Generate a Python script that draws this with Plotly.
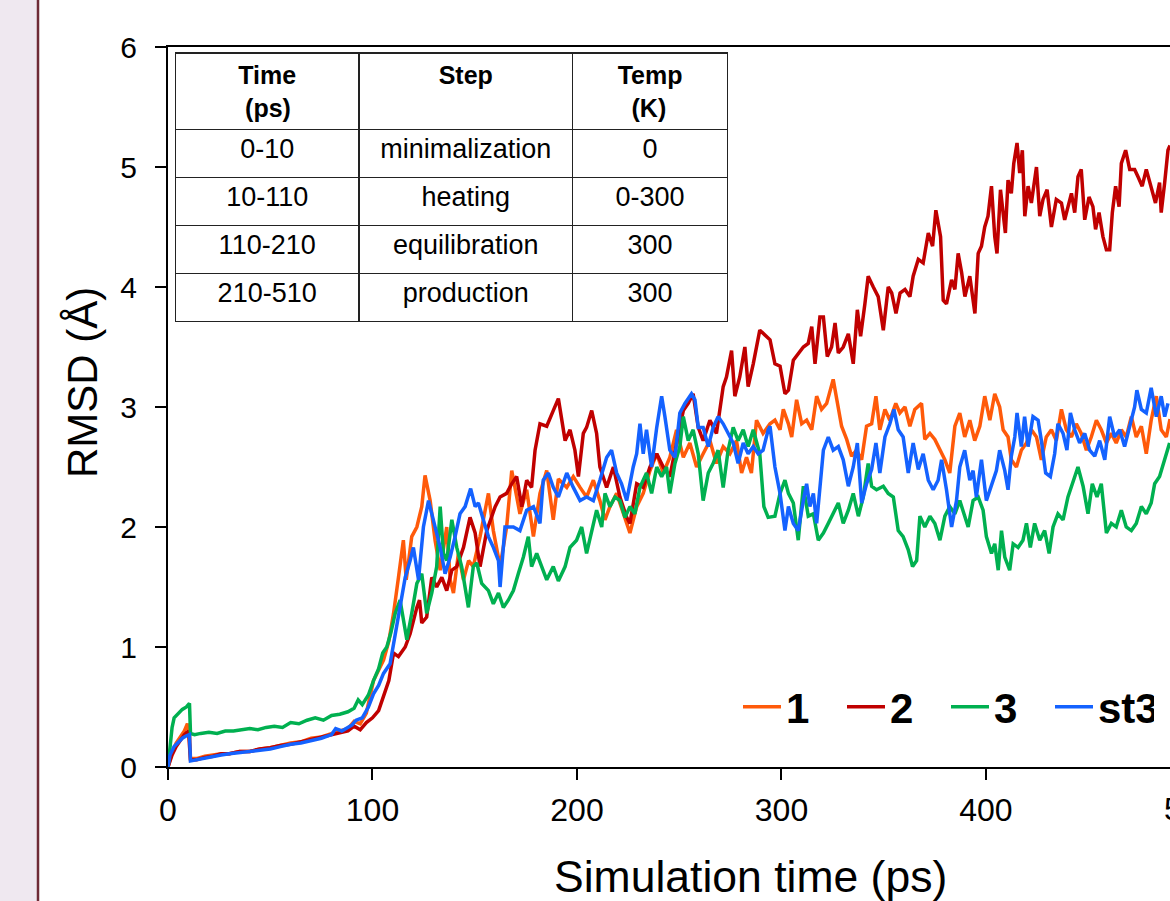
import plotly.graph_objects as go

# ---------------- data ----------------
t1 = [0, 2, 4, 6, 8, 9.5, 10.5, 11, 14, 18, 22, 26, 30, 35, 40, 45, 50, 55, 60, 65, 70, 75, 80, 84, 88, 91, 94, 97,
      100.5, 103, 105.4, 108, 110.3, 112.7, 115.1, 116.5, 119.2, 121.7, 124.1, 125.7, 128.2, 130.6, 133.1, 136.3, 138,
      139.6, 142, 144.5, 147, 149.3, 152.6, 156.7, 159.1, 162.4, 165.6, 168.1, 172.1, 175.4, 178.7, 181.9, 185.2, 188.4,
      190.9, 195, 198.2, 201.5, 204.7, 208, 211.2, 213.7, 216.1, 219.4, 222.6, 225.9, 229.2, 232.4, 235.7, 239, 242.2,
      245.4, 248.7, 252, 255.2, 258.5, 261.7, 265, 268.2, 271.5, 274.8, 278, 280.5, 282.9, 285.3, 287.8, 291,
      294.4, 296.8, 299.3, 300.9, 303.4, 305, 307.4, 309.9, 312.3, 314.8, 317.2, 319.6, 322.1, 325.3, 327.8, 329.4,
      331.9, 334.3, 336.7, 339.2, 341.6, 344.1, 346.2, 348.1, 350.6, 353, 355.9, 357.9, 360.4, 362.8, 365.2, 368.5,
      370.1, 372.6, 375, 377.5, 379.9, 382.3, 384.8, 387.2, 389.6, 392.1, 394.5, 397, 399.4, 401.9, 404.3, 406.7,
      408.4, 410.8, 412.4, 414.9, 417.3, 419.8, 422.2, 424.7, 427.1, 429.5, 432, 434.4, 436.9, 439.3, 441.8, 444.2,
      446.6, 449.1, 451.5, 454, 456.4, 458.9, 461.3, 463.7, 466.2, 468.6, 471.1, 473.5, 476, 478.4, 480.8, 483.3,
      485.7, 488.2, 490]
rmsd1 = [0, 0.12, 0.2, 0.25, 0.3, 0.36, 0.3, 0.07, 0.07, 0.09, 0.1, 0.11, 0.11, 0.13, 0.13, 0.15, 0.16, 0.18, 0.2,
         0.21, 0.24, 0.25, 0.28, 0.3, 0.32, 0.38, 0.36, 0.45,
         0.72, 0.8, 0.89, 1.05, 1.28, 1.58, 1.89, 1.56, 1.92, 2.0, 2.17, 2.43, 2.22, 1.89, 1.64, 2.0, 1.56,
         1.45, 1.78, 1.56, 1.72, 1.67, 1.92, 2.28, 1.97, 1.67, 2.0, 2.47, 2.11, 2.31, 1.92, 2.28, 2.47, 2.06,
         2.4, 2.33, 2.42, 2.33, 2.25, 2.39, 2.22, 2.06, 2.17, 2.28, 2.11, 1.95, 2.17, 2.28, 2.47, 2.61, 2.45,
         2.58, 2.81, 2.58, 2.7, 2.5, 2.61, 2.72, 2.53, 2.67, 2.61, 2.72, 2.45, 2.58, 2.45, 2.89, 2.78,
         2.86, 2.89, 2.81, 2.98, 2.86, 2.75, 3.06, 2.86, 2.89, 2.81, 3.09, 2.98, 3.03, 3.23, 3.0, 2.84,
         2.73, 2.59, 2.64, 2.56, 2.84, 2.86, 3.09, 2.81, 2.98, 2.89, 3.03, 2.95, 3.0, 2.84, 2.98, 3.03,
         2.73, 2.78, 2.73, 2.64, 2.56, 2.45, 2.84, 2.95, 2.75, 2.89, 2.72, 2.84, 3.09, 2.89, 3.11, 3.0,
         2.81, 2.75, 2.56, 2.5, 2.64, 2.7, 2.81, 2.75, 2.56, 2.75, 2.81, 2.72, 2.98, 2.81, 2.75, 2.86,
         2.78, 2.64, 2.75, 2.89, 2.81, 2.7, 2.78, 2.7, 2.81, 2.75, 2.92, 2.75, 2.84, 2.61, 2.89, 3.09,
         2.81, 2.75, 2.9]

t2 = [0, 2, 4, 6, 8, 10, 11, 14, 18, 22, 26, 30, 35, 40, 45, 50, 55, 60, 65, 70, 75, 80, 84, 88, 91, 94, 97, 100,
      103, 105.4, 108, 110.3, 112.7, 116, 118.4, 121.7, 123, 124.1, 126.5, 129, 131.4, 133.9, 136.3, 138.8, 141.2,
      144.5, 147.7, 150.2, 152.6, 155.9, 160, 162.4, 165.6, 168.1, 170.5, 173, 175.4, 177.8, 179.5, 181.9, 185.2,
      188.4, 190.9, 194.2, 196.6, 199, 200.7, 203.1, 204.7, 207.2, 209.6, 211.2, 214.5, 217.8, 221, 224.3, 225.9,
      229.2, 232.4, 235.7, 239, 242.2, 245.4, 248.7, 252, 254.4, 256.8, 259.3, 261.7, 265, 268.2, 271.5, 273.1,
      275.6, 277.2, 279.6, 282.1, 283.7, 286.2, 289.4, 292.7, 294.4, 296.8, 299.3, 301.7, 303.4, 305.8, 308.2,
      310.7, 313.1, 314.8, 316.4, 318.8, 320.5, 322.4, 324.5, 326.2, 327.8, 330.2, 332.7, 335.1, 337.1, 338.7,
      340.8, 342.4, 344.9, 347.3, 349.8, 352.2, 353.9, 356, 358, 360.4, 362.8, 364.4, 366.9, 369.3, 371.8, 373.9,
      375.5, 377.8, 379.1, 380.7, 383.2, 384.8, 386.4, 388.1, 389.7, 392.1, 394.6, 396.2, 397.8, 399.4, 401,
      402.7, 404.3, 405.4, 407.1, 409.5, 410.8, 412.4, 413.6, 415.2, 416.5, 417.8, 419, 420.6, 422.2, 424.7,
      426.3, 427.9, 429.9, 432, 434.4, 436.9, 438.5, 440.1, 441.8, 443.4, 445, 446.6, 448.3, 450.4, 452.3, 453.6,
      455.3, 457.2, 458.9, 460.5, 461.8, 463.4, 465.1, 466.2, 468.3, 470.3, 472.7, 474.3, 476.4, 478.4, 480.8,
      482.9, 484.9, 485.7, 487.4, 489, 490]
rmsd2 = [0, 0.1, 0.17, 0.22, 0.27, 0.3, 0.06, 0.06, 0.08, 0.09, 0.11, 0.11, 0.13, 0.13, 0.15, 0.16, 0.18, 0.19,
         0.21, 0.23, 0.25, 0.27, 0.28, 0.3, 0.34, 0.31, 0.37, 0.41,
         0.47, 0.58, 0.72, 0.95, 0.92, 1.0, 1.11, 1.33, 1.39, 1.2, 1.25, 1.58, 1.5, 1.58, 1.47, 1.64, 1.67,
         1.83, 2.08, 1.95, 1.67, 1.97, 2.17, 2.25, 2.28, 2.36, 2.42, 2.17, 2.39, 2.33, 2.64, 2.86, 2.84,
         2.97, 3.07, 2.72, 2.81, 2.64, 2.42, 2.78, 2.83, 2.97, 2.78, 2.5, 2.33, 2.5, 2.25, 2.08, 2.03,
         2.36, 2.33, 2.5, 2.61, 2.5, 2.42, 2.7, 2.97, 3.03, 3.11, 2.83, 2.72, 2.89, 2.78, 3.17, 3.25,
         3.47, 3.09, 3.25, 3.5, 3.17, 3.36, 3.64, 3.59, 3.56, 3.36, 3.34, 3.11, 3.14, 3.39, 3.45,
         3.5, 3.53, 3.67, 3.36, 3.75, 3.75, 3.42, 3.5, 3.7, 3.45, 3.5, 3.61, 3.36, 3.81, 3.59,
         3.86, 4.09, 4.0, 3.92, 3.64, 4.0, 3.95, 3.78, 3.95, 3.98, 3.92, 4.09, 4.23, 4.2, 4.45, 4.34,
         4.64, 4.42, 3.89, 3.86, 4.06, 3.98, 4.28, 4.12, 3.92, 4.09, 3.78, 4.28, 4.34, 4.5, 4.59,
         4.84, 4.42, 4.28, 4.81, 4.45, 4.89, 4.78, 5.03, 5.2, 4.95, 5.14, 4.59, 4.84, 4.7, 5.0,
         4.59, 4.73, 4.81, 4.5, 4.73, 4.7, 4.56, 4.67, 4.78, 4.62, 4.92, 4.98, 4.56, 4.75, 4.67, 4.48,
         4.62, 4.42, 4.31, 4.31, 4.62, 4.84, 4.67, 5.03, 5.14, 4.98, 4.98, 4.92, 4.84, 4.98, 4.84,
         4.7, 4.87, 4.62, 4.87, 5.14, 5.18]

t3 = [0, 1, 2, 3, 5, 7, 9, 10.5, 11, 13, 16, 20, 24, 28, 32, 36, 40, 44, 48, 52, 56, 60, 64, 68, 72, 76, 80, 84, 88,
      91, 93, 95, 98, 100.5, 103, 105, 107, 109, 111.1, 113.5, 116.8, 119.2, 121.7, 124.1, 126.5, 129, 131.4, 133.1,
      134.7, 136.3, 138.8, 141.2, 143.6, 146.9, 149.3, 151, 153.4, 156.7, 159.1, 161.6, 164, 166.4, 168.9, 171.3,
      173.8, 176.2, 177.8, 180.3, 182.7, 185.2, 188.4, 190.9, 194.2, 196.6, 199.8, 202.3, 204.7, 207.2, 209.6,
      212.1, 213.7, 216.1, 218.6, 221, 223.5, 225.9, 228.3, 230.8, 234, 236.5, 239, 241.4, 243.8, 245.4, 247.9,
      250.3, 252, 254.4, 256.8, 259.3, 261.7, 264.2, 266.6, 269, 271.5, 273.9, 276.4, 278.8, 281.3, 283.7, 286.2,
      289.4, 291.4, 293.5, 296.8, 299.3, 301.7, 303.4, 305.8, 308.2, 310.7, 313.1, 315.6, 318, 320.5, 322.9, 325.3,
      327.8, 330.2, 332.7, 335.1, 337.6, 340, 342.4, 344.1, 346.5, 349.8, 352.2, 354.7, 357.1, 359.5, 362, 364.1,
      366.1, 367.7, 370.1, 372.6, 375, 377.5, 379.9, 382.3, 384.8, 387.2, 389.6, 391.3, 393.7, 396.2, 398.6, 400.2,
      402.7, 404.3, 406, 407.6, 409.2, 411.6, 413.3, 415.7, 418.1, 419.8, 421.7, 423.8, 426.3, 428.7, 430.9, 432.8,
      435.2, 437.7, 440.1, 442.6, 445, 447.5, 449.9, 452, 454.3, 456.4, 458.9, 461.3, 463.7, 466.2, 468.6, 471.1,
      473.5, 476, 478.4, 480.8, 482.5, 484.9, 487.4, 489.8]
rmsd3 = [0, 0.2, 0.33, 0.41, 0.45, 0.48, 0.5, 0.53, 0.28, 0.27, 0.28, 0.29, 0.28, 0.3, 0.3, 0.31, 0.32, 0.31, 0.33,
         0.34, 0.33, 0.37, 0.36, 0.39, 0.41, 0.39, 0.43, 0.44, 0.46,
         0.49, 0.56, 0.52, 0.6, 0.72, 0.82, 0.95, 1.0, 1.12, 1.28, 1.39, 1.06, 1.28, 1.53, 1.61, 1.28, 1.45, 1.67, 2.17,
         1.78, 1.72, 2.06, 1.83, 1.67, 1.33, 1.67, 1.7, 1.53, 1.47, 1.36, 1.45, 1.33, 1.39, 1.47, 1.61,
         1.75, 1.92, 1.67, 1.78, 1.67, 1.56, 1.67, 1.55, 1.67, 1.83, 1.89, 2.0, 1.78, 1.95, 2.14,
         2.0, 2.28, 2.17, 2.25, 2.22, 2.08, 2.17, 2.11, 2.33, 2.45, 2.28, 2.5, 2.42, 2.5, 2.28, 2.53,
         2.67, 2.92, 2.72, 2.81, 2.61, 2.22, 2.45, 2.53, 2.64, 2.33, 2.64, 2.83, 2.72, 2.81, 2.67, 2.81,
         2.61, 2.17, 2.08, 2.09, 2.28, 2.39, 2.28, 2.2, 1.89, 2.34, 2.09, 2.11, 1.89, 1.95, 2.03, 2.11,
         2.2, 2.03, 2.14, 2.28, 2.09, 2.25, 2.53, 2.34, 2.31, 2.34, 2.28, 2.25, 1.97, 1.92, 1.81, 1.67,
         1.72, 2.09, 2.0, 2.09, 2.03, 1.89, 2.09, 2.17, 2.11, 2.22, 2.09, 2.0, 2.22, 2.25, 2.14, 1.92,
         1.78, 1.86, 1.64, 1.97, 1.75, 1.64, 1.86, 1.83, 1.89, 2.03, 1.83, 2.03, 1.89, 1.97, 1.78, 2.0,
         2.11, 2.06, 2.25, 2.39, 2.5, 2.34, 2.11, 2.36, 2.25, 2.36, 1.95, 2.03, 2.0, 2.14, 2.0, 1.97,
         2.03, 2.17, 2.11, 2.2, 2.36, 2.42, 2.56, 2.7]

t4 = [0, 1, 3, 5, 7, 9, 10.5, 11, 14, 18, 22, 26, 30, 35, 40, 45, 50, 55, 60, 65, 70, 75, 80, 82, 85, 88, 90, 92, 95,
      98, 100.5, 103, 105.4, 108.6, 111.1, 113.5, 116, 118.4, 120, 122.5, 124.9, 127.4, 129.8, 133.1, 135.5, 138,
      140.4, 142.8, 145.3, 148, 150.2, 151.8, 154.2, 156.7, 159.1, 161.6, 162.4, 164.8, 168.9, 172.1, 175.4, 178.7,
      181.9, 183.5, 186, 188.4, 190.9, 195, 198.2, 201.5, 204.7, 208, 211.2, 214.5, 216.9, 219.4, 221.8, 224.3,
      227.5, 229.2, 230.8, 232.4, 234, 236.5, 239, 241.4, 243, 245.4, 247.9, 250.3, 252.8, 256, 257.7, 259.3, 261.7,
      264.2, 266.6, 269, 271.5, 273.9, 276.4, 278.8, 281.3, 283.7, 286.2, 288.6, 291, 293.5, 294.4, 296.8, 299.3,
      301.7, 303.4, 305.8, 308.2, 310.7, 312.3, 313.9, 315.6, 317.2, 318.8, 320.5, 322.9, 325.3, 327.8, 330.2,
      332.7, 335.1, 337.1, 339.2, 341.6, 344.1, 346.2, 348.1, 350.6, 353, 355, 357.1, 359.5, 362, 364.4, 366.9,
      369.3, 371.8, 374.2, 376.6, 378.3, 380.7, 383.2, 385.6, 387.2, 389.6, 392.1, 393.7, 395.3, 397.8, 400.2,
      402.7, 405.1, 406.7, 409.2, 410.8, 412.4, 414.1, 415.2, 417.3, 418.9, 420.6, 423, 425.5, 427.1, 429.2, 431.5,
      433.6, 435.2, 437.7, 439.6, 441.3, 443.4, 445.8, 448.3, 450.7, 453.2, 455.6, 458.1, 460.5, 462.9, 465.4,
      467.8, 470.3, 472.7, 473.8, 476, 478.4, 480.8, 483.3, 485.7, 487.4, 489]
rmsd4 = [0, 0.1, 0.17, 0.21, 0.24, 0.26, 0.27, 0.05, 0.06, 0.08, 0.09, 0.1, 0.11, 0.12, 0.13, 0.14, 0.15, 0.17, 0.19,
         0.2, 0.22, 0.24, 0.27, 0.32, 0.3, 0.33, 0.35, 0.39, 0.41,
         0.5, 0.61, 0.68, 0.78, 0.86, 1.11, 1.31, 1.58, 1.72, 1.83, 1.56, 2.0, 2.22, 2.06, 1.83, 1.61, 1.75,
         1.92, 2.11, 2.17, 2.32, 2.17, 2.2, 2.06, 1.92, 1.83, 1.72, 1.5, 2.0, 2.0, 1.97, 2.14, 2.17,
         2.03, 2.39, 2.45, 2.33, 2.25, 2.45, 2.33, 2.22, 2.25, 2.22, 2.39, 2.58, 2.64, 2.45, 2.36, 2.22,
         2.5, 2.61, 2.86, 2.61, 2.81, 2.5, 2.83, 3.09, 2.92, 2.64, 2.58, 2.95, 3.03, 3.11, 3.06, 2.83, 2.83,
         2.67, 2.83, 2.92, 2.86, 2.78, 2.7, 2.53, 2.7, 2.61, 2.67, 2.61, 2.64, 2.81, 2.84, 2.5, 2.28,
         1.97, 2.17, 2.03, 1.97, 2.22, 2.36, 2.17, 2.28, 2.03, 2.34, 2.64, 2.75, 2.64, 2.67, 2.56,
         2.34, 2.5, 2.7, 2.2, 2.36, 2.48, 2.7, 2.45, 2.75, 2.86, 2.98, 2.81, 2.75, 2.45, 2.7, 2.48,
         2.61, 2.39, 2.31, 2.39, 2.56, 2.31, 2.0, 2.22, 2.5, 2.64, 2.39, 2.47, 2.25, 2.56, 2.22,
         2.36, 2.47, 2.64, 2.47, 2.31, 2.59, 2.75, 2.95, 2.67, 2.92, 2.67, 2.92, 2.89, 2.72, 2.45, 2.42,
         2.61, 2.86, 2.78, 2.64, 2.95, 2.81, 2.7, 2.78, 2.64, 2.59, 2.72, 2.56, 2.92, 2.75, 2.81,
         2.67, 2.84, 3.0, 3.14, 2.98, 2.95, 3.16, 2.92, 3.09, 2.92, 3.03]

series_names = ["1", "2", "3", "st3"]
series_colors = ["#ff5a0a", "#c00000", "#00b050", "#1462ff"]
series_t = [t1, t2, t3, t4]
series_v = [rmsd1, rmsd2, rmsd3, rmsd4]

x_ticks = [0, 100, 200, 300, 400, 500]
y_ticks = [0, 1, 2, 3, 4, 5, 6]

NB = "\u00a0"
table_header = ["<b>Time</b><br><b>" + NB + "(ps)</b>", "<b>Step</b>",
                "<b>Temp</b><br><b>" + NB * 2 + "(K)</b>"]
table_time = ["0-10", "10-110", "110-210", "210-510"]
table_step = ["minimalization", "heating", "equilibration", "production"]
table_temp = ["0", "0-300", "300", "300"]

FONT = "Liberation Sans, Arial, Helvetica, sans-serif"

# ---------------- figure ----------------
W, H = 1170, 901
ML, MR, MT, MB = 168, 0, 47, 134
PW, PH = W - ML - MR, H - MT - MB
XMAX = 490


def px2paper_x(px):
    return (px - ML) / PW


def px2paper_y(py):
    return (H - MB - py) / PH


fig = go.Figure()
for name, col, tt, vv in zip(series_names, series_colors, series_t, series_v):
    fig.add_trace(go.Scatter(x=tt, y=vv, mode="lines", name=name,
                             line=dict(color=col, width=3.5)))

fig.add_trace(go.Table(
    domain=dict(x=[px2paper_x(175.5), px2paper_x(728)], y=[px2paper_y(332), px2paper_y(53)]),
    columnwidth=[183.5, 214, 155],
    header=dict(values=table_header, fill_color="white", line=dict(color="#222", width=1.5),
                font=dict(family=FONT, size=25, color="black"), align="center", height=75),
    cells=dict(values=[table_time, table_step, table_temp], fill_color="white",
               line=dict(color="#222", width=1.5),
               font=dict(family=FONT, size=27, color="black"), align="center", height=48),
))

axis_common = dict(showgrid=False, zeroline=False, showline=True, linecolor="black", linewidth=2,
                   ticks="outside", ticklen=11, tickwidth=2, tickcolor="black")

fig.update_layout(
    width=W, height=H,
    margin=dict(l=ML, r=MR, t=MT, b=MB, pad=0),
    paper_bgcolor="white", plot_bgcolor="white",
    font=dict(family=FONT, color="black"),
    xaxis=dict(range=[0, XMAX], tickvals=x_ticks, mirror=True,
               tickfont=dict(size=32), ticklabelstandoff=3, **axis_common),
    yaxis=dict(range=[0, 6], tickvals=y_ticks,
               tickfont=dict(size=30), ticklabelstandoff=12, **axis_common),
    showlegend=True,
    legend=dict(orientation="h", x=px2paper_x(738), y=px2paper_y(707), xanchor="left", yanchor="middle",
                font=dict(size=42, family=FONT, color="black", weight="bold"),
                bgcolor="rgba(0,0,0,0)", entrywidth=51, entrywidthmode="pixels", itemwidth=38,
                tracegroupgap=0),
    shapes=[
        dict(type="rect", xref="paper", yref="paper", x0=px2paper_x(0), x1=px2paper_x(37),
             y0=px2paper_y(H), y1=px2paper_y(0), fillcolor="#efe8f0", line=dict(width=0), layer="below"),
        dict(type="line", xref="paper", yref="paper", x0=px2paper_x(38), x1=px2paper_x(38),
             y0=px2paper_y(H), y1=px2paper_y(0), line=dict(color="#6e2a36", width=2.5), layer="below"),
    ],
    annotations=[
        dict(text="500", xref="paper", yref="paper", x=500 / XMAX, y=px2paper_y(809), showarrow=False,
             xanchor="center", yanchor="middle", font=dict(size=32)),
        dict(text="Simulation time (ps)", xref="paper", yref="paper", x=px2paper_x(750), y=px2paper_y(877),
             showarrow=False, xanchor="center", yanchor="middle", font=dict(size=44.5)),
        dict(text="RMSD (Å)", xref="paper", yref="paper", x=px2paper_x(82), y=px2paper_y(383),
             showarrow=False, xanchor="center", yanchor="middle", textangle=-90, font=dict(size=42)),
    ],
)

fig.write_html("out.html", config={"displayModeBar": False},
               post_script="document.body.style.margin='0';document.body.style.overflow='hidden';")
